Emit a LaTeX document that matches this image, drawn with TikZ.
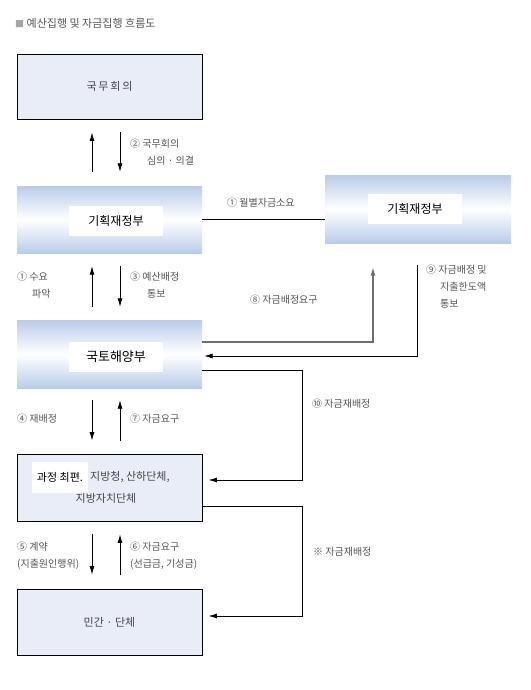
\documentclass[tikz,border=0pt]{standalone}
\usepackage{fontspec}
\setmainfont{Noto Sans CJK KR}
\usetikzlibrary{arrows.meta}
\definecolor{boxfill}{HTML}{E9EDF8}
\definecolor{gradblue}{HTML}{BACCEA}
\definecolor{labelgray}{HTML}{555555}
\definecolor{textgray}{HTML}{444444}
\definecolor{linegray}{HTML}{6E6E6E}
\begin{document}
\begin{tikzpicture}[x=1pt,y=-1pt,
  plainbox/.style={draw=black, line width=0.9pt, fill=boxfill, minimum width=185pt, inner sep=0pt, text=textgray, font=\fontsize{11}{13}\selectfont},
  gradbox/.style={draw=none, top color=gradblue, bottom color=gradblue, middle color=white, minimum width=185pt, inner sep=0pt},
  whitelabel/.style={fill=white, minimum width=94pt, minimum height=30pt, inner sep=0pt, text=black, font=\fontsize{12}{14}\selectfont},
  lbl/.style={anchor=north west, text=labelgray, font=\fontsize{10}{17}\selectfont, align=left, inner sep=0pt},
  arr/.style={-{Latex[length=8.5pt,width=5pt]}, line width=0.8pt},
  graylinearr/.style={-{Latex[length=8.5pt,width=5pt]}, line width=1.3pt, draw=linegray},
  plainline/.style={line width=0.8pt}
]
\useasboundingbox (0,0) rectangle (530,690);
\fill[white] (0,0) rectangle (530,690);

% title
\node[anchor=west, inner sep=0pt, font=\fontsize{11}{13}\selectfont, text=labelgray] (title) at (15,23) {{\color{gray!70}\fontsize{9}{11}\selectfont■}\ 예산집행 및 자금집행 흐름도};

% boxes
\node[plainbox, minimum height=65pt] (b1) at (109.5,86.5) {국\,무\,회\,의};
\node[gradbox, minimum height=67pt] (b2) at (109.5,219.5) {};
\node[whitelabel] (b2t) at (116,221) {기획재정부};
\node[gradbox, minimum width=186pt, minimum height=68pt] (br) at (418,209) {};
\node[whitelabel] (brt) at (415,209) {기획재정부};
\node[gradbox, minimum height=68pt] (b3) at (109.5,354) {};
\node[whitelabel, font=\fontsize{13}{15}\selectfont] (b3t) at (116,357) {국토해양부};
\node[plainbox, minimum height=67pt] (b4) at (109.5,487.5) {};
\node[fill=white, minimum width=56pt, minimum height=31pt, inner sep=0pt, font=\fontsize{11}{13}\selectfont] (b4t) at (60,477.5) {과정 최편.};
\node[anchor=west, inner sep=0pt, text=textgray, font=\fontsize{11}{13}\selectfont] (b4a) at (90,477) {지방청, 산하단체,};
\node[inner sep=0pt, text=textgray, font=\fontsize{11}{13}\selectfont] (b4b) at (106,498) {지방자치단체};
\node[plainbox, minimum height=66pt] (b5) at (109.5,622) {민간 · 단체};

% vertical arrows b1-b2
\draw[arr, shorten <=14pt, shorten >=13pt] ([xshift=-17.5pt]b2.north) -- ([xshift=-17.5pt]b1.south);
\draw[arr, shorten <=13pt, shorten >=14pt] ([xshift=10.5pt]b1.south) -- ([xshift=10.5pt]b2.north);
\node[lbl] (l2) at (130,139) {② 국무회의\\\hspace*{1.7em}심의 · 의결};

% b2-b3
\draw[arr, shorten <=13pt, shorten >=13pt] ([xshift=-17.5pt]b3.north) -- ([xshift=-17.5pt]b2.south);
\draw[arr, shorten <=13pt, shorten >=13pt] ([xshift=10.5pt]b2.south) -- ([xshift=10.5pt]b3.north);
\node[lbl] (l1a) at (17,272) {① 수요\\\hspace*{1.5em}파악};
\node[lbl] (l3) at (130,272) {③ 예산배정\\\hspace*{1.7em}통보};

% b3-b4
\draw[arr, shorten <=12pt, shorten >=13pt] ([xshift=-17.5pt]b3.south) -- ([xshift=-17.5pt]b4.north);
\draw[arr, shorten <=13pt, shorten >=12pt] ([xshift=10.5pt]b4.north) -- ([xshift=10.5pt]b3.south);
\node[lbl] (l4) at (17,414) {④ 재배정};
\node[lbl] (l7) at (130,414) {⑦ 자금요구};

% b4-b5
\draw[arr, shorten <=13pt, shorten >=14pt] ([xshift=-17.5pt]b4.south) -- ([xshift=-17.5pt]b5.north);
\draw[arr, shorten <=14pt, shorten >=13pt] ([xshift=10.5pt]b5.north) -- ([xshift=10.5pt]b4.south);
\node[lbl] (l5) at (17,542) {⑤ 계약\\(지출원인행위)};
\node[lbl] (l6) at (130,542) {⑥ 자금요구\\(선급금, 기성금)};

% (1) monthly
\draw[plainline] (b2.east) -- (b2.east -| br.west);
\node[lbl] (l1b) at (227,198) {① 월별자금소요};

% (8)
\draw[graylinearr] ([yshift=12pt]b3.east) -| ([xshift=-45pt,yshift=-24pt]br.south);
\node[lbl] (l8) at (250,295) {⑧ 자금배정요구};

% (9)
\draw[arr, shorten >=2pt] ([xshift=-1pt,yshift=-22pt]br.south) |- ([yshift=-2pt]b3.east);
\node[lbl] (l9) at (426,265) {⑨ 자금배정 및\\\hspace*{1.4em}지출한도액\\\hspace*{1.4em}통보};

% (10)
\draw[arr, shorten >=6pt] ([yshift=-16pt]b3.east) -- ++(100pt,0pt) |- ([yshift=7.5pt]b4.east);
\node[lbl] (l10) at (312,399) {⑩ 자금재배정};

% reallocation to private
\draw[arr, shorten >=6pt] ([yshift=-18.5pt]b4.east) -- ++(100pt,0pt) |- ([yshift=6pt]b5.east);
\node[lbl] (lx) at (313,547) {※ 자금재배정};
\end{tikzpicture}
\end{document}
